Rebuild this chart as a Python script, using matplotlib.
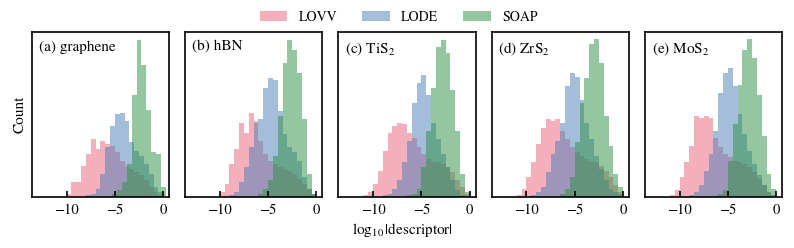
import numpy as np
import matplotlib
matplotlib.use("Agg")
import matplotlib.pyplot as plt

plt.rcParams['font.family'] = ['STIXGeneral', 'DejaVu Serif']
plt.rcParams['mathtext.fontset'] = 'stix'

# panel titles
titles = ['(a) graphene', '(b) hBN', r'(c) TiS$_2$', r'(d) ZrS$_2$', r'(e) MoS$_2$']
names = ['LOVV', 'LODE', 'SOAP']
colors = ['#e8637b', '#4a7db5', '#2a9142']
bin_w = 0.5

# histogram heights (percent of axis height)
# each series: first bin left edge, then bin heights
lovv_start = [-10.0, -10.0, -11.0, -11.0, -11.0]
lovv = [
    [2, 9, 9, 19, 26, 35, 29, 34, 32, 31, 27, 22, 19, 17, 15, 13, 10, 6, 3, 1],
    [3, 8, 20, 29, 45, 39, 51, 46, 34, 26, 22, 20, 18, 17, 16, 14, 11, 8, 5, 2],
    [1, 3, 8, 16, 28, 39, 43, 45, 44, 39, 36, 30, 26, 23, 21, 21, 20, 18, 15, 10, 6, 2],
    [1, 5, 12, 21, 32, 42, 47, 46, 47, 40, 35, 30, 27, 25, 23, 22, 21, 19, 16, 12, 7, 3],
    [1, 4, 12, 21, 31, 49, 48, 49, 48, 36, 30, 26, 24, 22, 21, 20, 18, 15, 11, 7, 3, 1],
]
lode_start = [-8.0, -9.0, -9.0, -9.5, -9.0]
lode = [
    [1, 2, 5, 14, 30, 43, 50, 51, 46, 33, 28, 25, 20, 14, 6, 3],
    [1, 3, 9, 18, 30, 45, 47, 66, 72, 71, 52, 38, 30, 27, 22, 12, 5, 2],
    [1, 2, 5, 10, 21, 34, 57, 69, 74, 62, 45, 35, 26, 18, 10, 4, 1],
    [1, 3, 6, 15, 26, 34, 45, 67, 75, 73, 59, 45, 35, 25, 17, 10, 5, 3, 2],
    [1, 3, 7, 16, 26, 40, 63, 75, 78, 67, 50, 38, 28, 20, 13, 7, 3, 1],
]
soap_start = [-5.25, -6.0, -6.5, -6.5, -6.0]
soap = [
    [2, 4, 9, 20, 62, 95, 80, 53, 27, 26, 6],
    [2, 5, 10, 25, 49, 81, 95, 89, 75, 47, 14, 2],
    [1, 2, 5, 18, 40, 66, 91, 95, 87, 65, 40, 14, 3],
    [2, 5, 12, 33, 57, 72, 93, 96, 81, 49, 31, 14, 6],
    [2, 4, 22, 44, 68, 89, 96, 84, 62, 37, 14, 5],
]

fig, axes = plt.subplots(1, 5, figsize=(7.94, 2.48), dpi=100)
fig.subplots_adjust(left=0.040, right=0.985, bottom=0.206, top=0.871, wspace=0.117)

for i, ax in enumerate(axes):
    for vals, start, name, c in [(lovv[i], lovv_start[i], names[0], colors[0]),
                                 (lode[i], lode_start[i], names[1], colors[1]),
                                 (soap[i], soap_start[i], names[2], colors[2])]:
        edges = start + bin_w * np.arange(len(vals) + 1)
        centers = edges[:-1] + bin_w / 2
        ax.hist(centers, bins=edges, weights=vals, color=c, alpha=0.5,
                label=name if i == 0 else None)
    ax.set_xlim(-13.6, 0.6)
    ax.set_ylim(0, 100)
    ax.set_xticks([-10, -5, 0])
    ax.set_yticks([])
    ax.tick_params(axis='x', direction='in', length=4, width=1.2, labelsize=10.5, pad=5)
    for s in ax.spines.values():
        s.set_linewidth(1.2)
    ax.text(0.05, 0.95, titles[i], transform=ax.transAxes, ha='left', va='top', fontsize=11)

axes[0].set_ylabel('Count', fontsize=11, labelpad=4)
fig.text(0.507, 0.072, r'$\log_{10}|\mathrm{descriptor}|$', ha='center', va='center', fontsize=11)
fig.legend(loc='center', bbox_to_anchor=(0.502, 0.93), ncol=3, frameon=False, fontsize=10,
           handlelength=2.0, handleheight=0.7, handletextpad=0.8, columnspacing=1.8)

fig.savefig('out.png', dpi=100)
